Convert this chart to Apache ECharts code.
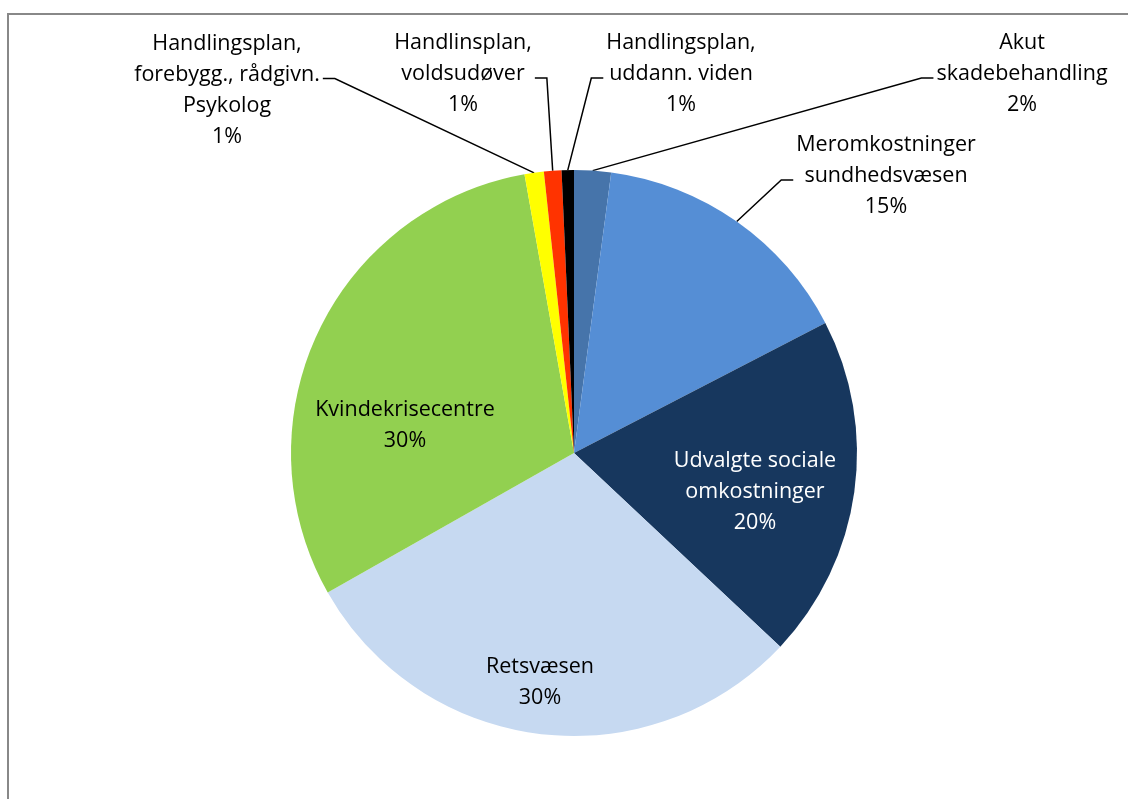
<!DOCTYPE html>
<html>
<head>
<meta charset="utf-8">
<script src="https://cdn.jsdelivr.net/npm/echarts@6/dist/echarts.min.js"></script>
<style>
  html, body { margin: 0; padding: 0; background: #fff; }
  #chart { width: 1128px; height: 799px; }
</style>
</head>
<body>
<div id="chart"></div>
<script>
// slice names (clockwise from 12 o'clock) and their shares
const categories = [
  'Akut\nskadebehandling',
  'Meromkostninger\nsundhedsvæsen',
  'Udvalgte sociale\nomkostninger',
  'Retsvæsen',
  'Kvindekrisecentre',
  'Handlingsplan,\nforebygg., rådgivn.\nPsykolog',
  'Handlinsplan,\nvoldsudøver',
  'Handlingsplan,\nuddann. viden'
];
const shares = [2.1, 15.3, 19.6, 29.8, 30.4, 1.1, 1.0, 0.7];

const sliceColors = ['#4674AA', '#558ED5', '#17375E', '#C6D9F1', '#92D050', '#FFFF00', '#FF3300', '#000000'];
const insideLabel = [false, false, true, true, true, false, false, false];
// where Excel put each label (centre of the text block)
const labelPos = [
  [1022, 74], [886, 176], [755, 492], [540, 682],
  [405, 425], [227, 90], [463, 74], [681, 74]
];
const LINE_H = 31;

const chart = echarts.init(document.getElementById('chart'));

chart.setOption({
  animation: false,
  textStyle: { fontFamily: '"Open Sans", sans-serif' },
  graphic: [{
    type: 'rect',
    shape: { x: 8, y: 14, width: 1200, height: 900 },
    style: { fill: 'none', stroke: '#888', lineWidth: 2 },
    silent: true
  }],
  series: [{
    type: 'pie',
    center: [574, 453],
    radius: 283,
    startAngle: 90,
    clockwise: true,
    avoidLabelOverlap: false,
    itemStyle: { borderWidth: 0 },
    label: {
      fontSize: 21.5,
      lineHeight: LINE_H,
      color: '#000',
      align: 'center',
      formatter: p => p.name + '\n' + Math.round(p.percent) + '%'
    },
    labelLine: {
      show: true,
      lineStyle: { color: '#000', width: 1.5 }
    },
    labelLayout: function (params) {
      const i = params.dataIndex;
      const p = labelPos[i];
      const out = { x: p[0], y: p[1], align: 'center', verticalAlign: 'middle' };
      if (!insideLabel[i] && params.labelLinePoints) {
        // Excel style leader: from the slice to a short stub beside the 2nd text line
        const start = params.labelLinePoints[0];
        const w = params.labelRect.width;
        const nLines = categories[i].split('\n').length + 1;
        const lineY = p[1] - nLines * LINE_H / 2 + 1.5 * LINE_H + 4;
        const rightSide = p[0] > start[0];
        const edge = rightSide ? p[0] - w / 2 - 3 : p[0] + w / 2 + 3;
        const far = rightSide ? edge - 12 : edge + 12;
        out.labelLinePoints = [start, [far, lineY], [edge, lineY]];
      }
      return out;
    },
    data: categories.map((name, i) => ({
      name: name,
      value: shares[i],
      itemStyle: { color: sliceColors[i] },
      label: insideLabel[i]
        ? { position: 'inside', color: i === 2 ? '#fff' : '#000' }
        : { position: 'outside' },
      labelLine: { show: !insideLabel[i] }
    }))
  }]
});
</script>
</body>
</html>
